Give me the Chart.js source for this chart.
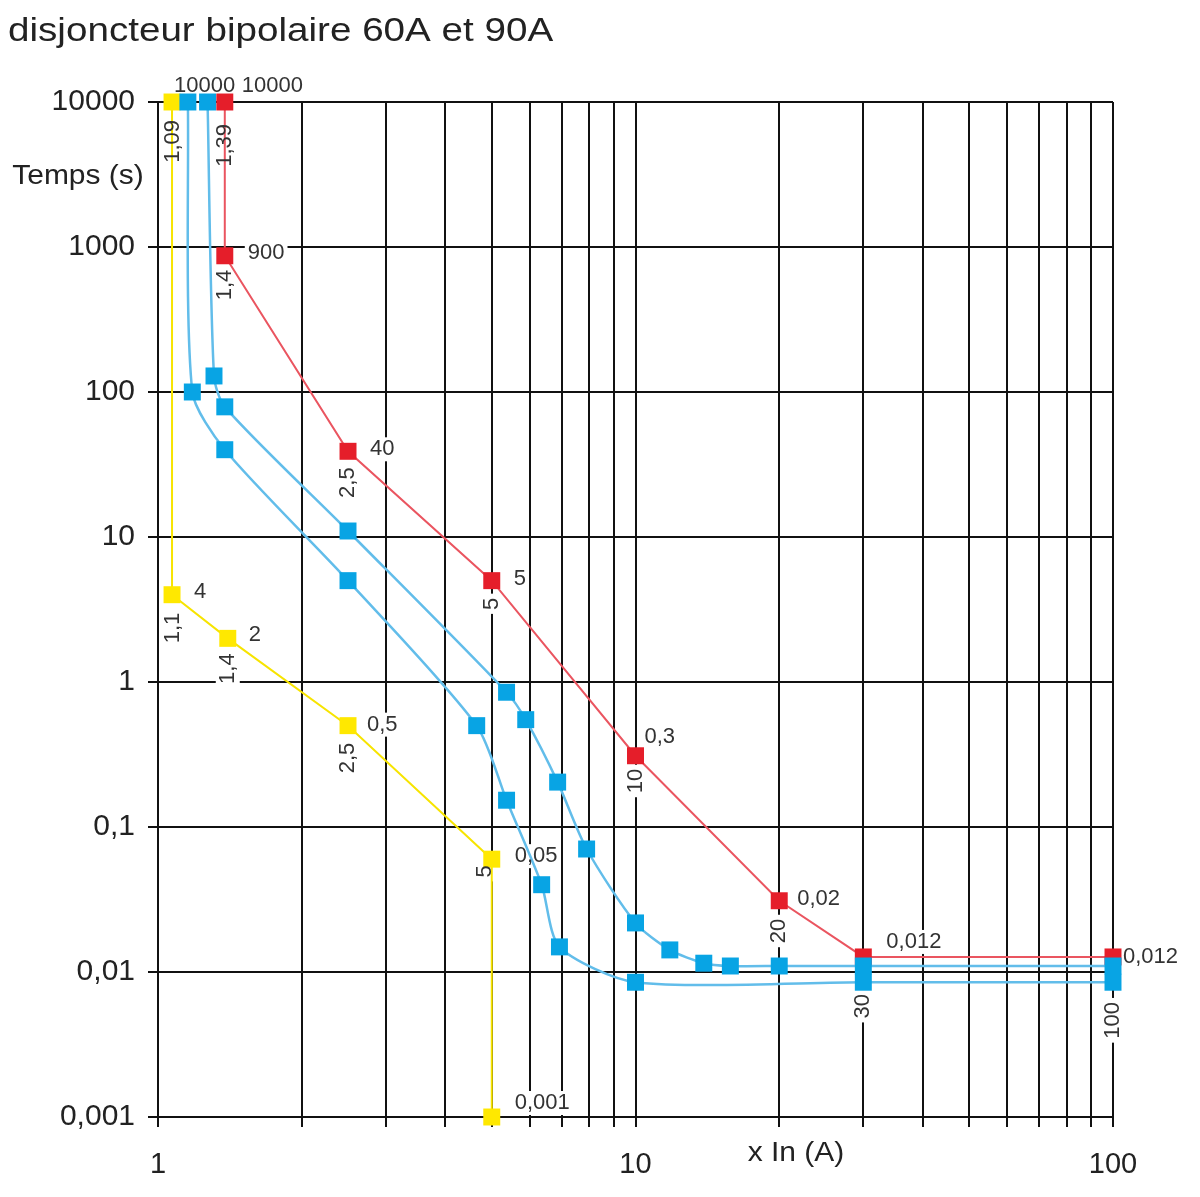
<!DOCTYPE html>
<html>
<head>
<meta charset="utf-8">
<script src="https://cdn.jsdelivr.net/npm/chart.js@4.4.1/dist/chart.umd.min.js"></script>
<style>
  body { margin: 0; background: #fff; }
  #wrap { width: 1200px; height: 1197px; position: relative; }
</style>
</head>
<body>
<div id="wrap"><canvas id="chart"></canvas></div>
<script>
// Tick values
const xTicks = [1, 2, 3, 4, 5, 6, 7, 8, 9, 10, 20, 30, 40, 50, 60, 70, 80, 90, 100];
const yTicks = [0.001, 0.01, 0.1, 1, 10, 100, 1000, 10000];

// Yellow curve
const yellowCurrent = [1.07, 1.07, 1.4, 2.5, 5, 5];
const yellowTime = [10000, 4, 2, 0.5, 0.06, 0.001];
const yellowTimeLabels = ['10000', '4', '2', '0,5', '0,05', '0,001'];
const yellowCurrentLabels = ['1,09', '1,1', '1,4', '2,5', '5', ''];

// Red curve
const redCurrent = [1.38, 1.38, 2.5, 5, 10, 20, 30, 100];
const redTime = [10000, 870, 39, 5, 0.31, 0.031, 0.0127, 0.0127];
const redTimeLabels = ['10000', '900', '40', '5', '0,3', '0,02', '0,012', '0,012'];
const redCurrentLabels = ['1,39', '1,4', '2,5', '5', '10', '20', '30', '100'];

// Blue curves
const blueLowCurrent = [1.155, 1.18, 1.38, 2.5, 4.65, 5.37, 6.36, 6.93, 10, 30, 100];
const blueLowTime = [10000, 100, 40, 5, 0.5, 0.153, 0.04, 0.0149, 0.0085, 0.0085, 0.0085];
const blueHighCurrent = [1.27, 1.31, 1.38, 2.5, 5.37, 5.89, 6.87, 7.9, 10, 11.8, 13.9, 15.8, 20, 30, 100];
const blueHighTime = [10000, 129, 79, 11, 0.85, 0.55, 0.204, 0.0705, 0.0218, 0.0142, 0.0115, 0.011, 0.011, 0.011, 0.011];

const FONT = '"Liberation Sans", Arial, sans-serif';
const TEXT = '#333';

function toPoints(xs, ys) {
  return xs.map((x, i) => ({ x: x, y: ys[i] }));
}

// label placement tweaks (dx, dy) for the time values
const timeNudge = {
  red: [[17, -16], [23, -3], [22, -2], [22, -2], [9, -19], [18, -2], [23, -15], [10, 0]],
  yellow: [[2, -16], [22, -3], [21, -3], [19, -1], [23, -3], [23, -14]]
};
// gap below the point for the rotated current labels (dx, gap)
const currentNudge = {
  red: [[0, 22], [0, 14], [0, 16], [0, 17], [0, 13], [0, 18], [0, 37], [0, 45]],
  yellow: [[1, 18], [1, 18], [0, 15], [0, 17], [-7, 6], [0, 0]]
};

const labelSets = [
  { name: 'red', index: 1, time: redTimeLabels, current: redCurrentLabels },
  { name: 'yellow', index: 0, time: yellowTimeLabels, current: yellowCurrentLabels }
];

function drawLabels(chart, bgOnly) {
  const ctx = chart.ctx;
  ctx.save();
  ctx.font = '22px ' + FONT;
  ctx.textBaseline = 'middle';
  labelSets.forEach(set => {
    const meta = chart.getDatasetMeta(set.index);
    meta.data.forEach((pt, j) => {
      const t = set.time[j];
      if (t) {
        const [dx, dy] = timeNudge[set.name][j];
        const x = pt.x + dx, y = pt.y + dy;
        const w = ctx.measureText(t).width;
        if (bgOnly) {
          ctx.fillStyle = '#fff';
          ctx.fillRect(x - 3, y - 12, w + 6, 24);
        } else {
          ctx.fillStyle = TEXT;
          ctx.textAlign = 'left';
          ctx.fillText(t, x, y);
        }
      }
      const c = set.current[j];
      if (c) {
        const [dx, gap] = currentNudge[set.name][j];
        const w = ctx.measureText(c).width;
        ctx.save();
        ctx.translate(pt.x + dx, pt.y + gap);
        ctx.rotate(-Math.PI / 2);
        if (bgOnly) {
          ctx.fillStyle = '#fff';
          ctx.fillRect(-w - 4, -12, w + 8, 24);
        } else {
          ctx.fillStyle = TEXT;
          ctx.textAlign = 'right';
          ctx.fillText(c, 0, 0);
        }
        ctx.restore();
      }
    });
  });
  ctx.restore();
}

// text drawn a little wider than the font, like the original scan
function wideText(ctx, text, x, y, size, stretch, align) {
  ctx.save();
  ctx.font = size + 'px ' + FONT;
  ctx.textAlign = align;
  ctx.translate(x, y);
  ctx.scale(stretch, 1);
  ctx.fillText(text, 0, 0);
  ctx.restore();
}

const labelPlugin = {
  id: 'curveLabels',
  beforeDatasetsDraw(chart) {
    drawLabels(chart, true);
  },
  afterDatasetsDraw(chart) {
    drawLabels(chart, false);
  },
  afterDraw(chart) {
    const ctx = chart.ctx;
    ctx.save();
    ctx.fillStyle = '#222';
    ctx.textBaseline = 'middle';
    wideText(ctx, 'disjoncteur bipolaire 60A et 90A', 8, 32, 33, 1.17, 'left');
    wideText(ctx, 'Temps (s)', 78, 176, 28, 1.07, 'center');
    wideText(ctx, 'x In (A)', 796, 1153, 28, 1.07, 'center');
    ctx.restore();
  }
};

const commonLine = {
  showLine: true,
  pointStyle: 'rect',
  pointRadius: 12,
  pointHoverRadius: 12,
  pointBorderWidth: 0,
  borderWidth: 2,
  clip: false
};

new Chart(document.getElementById('chart'), {
  type: 'scatter',
  data: {
    datasets: [
      Object.assign({}, commonLine, {
        label: 'jaune',
        data: toPoints(yellowCurrent, yellowTime),
        borderColor: '#F7E400',
        pointBackgroundColor: '#FFE800',
        tension: 0,
        order: 2
      }),
      Object.assign({}, commonLine, {
        label: 'rouge',
        data: toPoints(redCurrent, redTime),
        borderColor: '#EA5560',
        pointBackgroundColor: '#E51E2A',
        tension: 0,
        order: 1
      }),
      Object.assign({}, commonLine, {
        label: 'bleu 1',
        data: toPoints(blueLowCurrent, blueLowTime),
        borderColor: '#62BDEA',
        borderWidth: 2.5,
        pointBackgroundColor: '#08A4E4',
        tension: 0.25,
        order: 0
      }),
      Object.assign({}, commonLine, {
        label: 'bleu 2',
        data: toPoints(blueHighCurrent, blueHighTime),
        borderColor: '#62BDEA',
        borderWidth: 2.5,
        pointBackgroundColor: '#08A4E4',
        tension: 0.25,
        order: 0
      })
    ]
  },
  options: {
    responsive: true,
    maintainAspectRatio: false,
    animation: false,
    layout: { padding: { top: 102, right: 87, left: 0, bottom: 0 } },
    plugins: {
      legend: { display: false },
      tooltip: { enabled: false },
      title: { display: false }
    },
    scales: {
      x: {
        type: 'logarithmic',
        min: 1,
        max: 100,
        afterBuildTicks: (scale) => {
          scale.ticks = xTicks.map(v => ({ value: v }));
        },
        afterFit: (scale) => { scale.height = 80; },
        grid: { color: '#111', lineWidth: 2, tickLength: 10, tickColor: '#111' },
        border: { color: '#111', width: 2 },
        ticks: {
          autoSkip: false,
          maxRotation: 0,
          padding: 21,
          color: '#222',
          font: { family: FONT, size: 29 },
          callback: (v) => ([1, 10, 100].includes(v) ? String(v) : '')
        }
      },
      y: {
        type: 'logarithmic',
        min: 0.001,
        max: 10000,
        afterBuildTicks: (scale) => {
          scale.ticks = yTicks.map(v => ({ value: v }));
        },
        afterFit: (scale) => { scale.width = 158; },
        grid: { color: '#111', lineWidth: 2, tickLength: 10, tickColor: '#111' },
        border: { color: '#111', width: 2 },
        ticks: {
          autoSkip: false,
          padding: 13,
          color: '#222',
          font: { family: FONT, size: 30 },
          callback: (v) => String(v).replace('.', ',')
        }
      }
    }
  },
  plugins: [labelPlugin]
});
</script>
</body>
</html>
